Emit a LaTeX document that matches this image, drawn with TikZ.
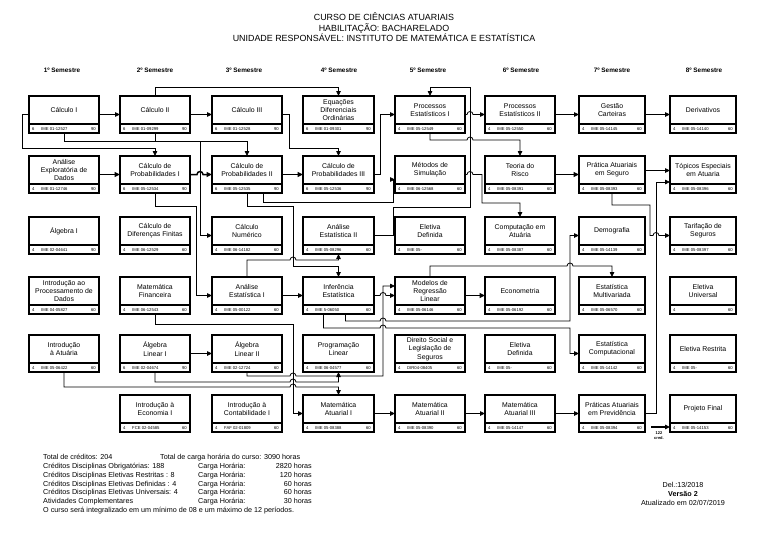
\documentclass[tikz,border=0pt]{standalone}
\usepackage{fontspec}
\setmainfont{Liberation Sans}
\usetikzlibrary{arrows.meta,calc}
\tikzset{
  cbox/.style={draw, line width=1.8pt, rectangle, minimum height=37pt, inner sep=0pt, outer sep=0pt},
  ctext/.style={font=\fontsize{6.9}{8.3}\selectfont, align=center, inner sep=0pt},
  stext/.style={font=\fontsize{4.2}{4.6}\selectfont, inner sep=0pt},
  conn/.style={line width=0.8pt, -{Triangle[length=5pt,width=4.5pt]}},
  bold conn/.style={line width=1.5pt, -{Triangle[length=5.5pt,width=5pt]}},
  semh/.style={font=\bfseries\fontsize{6.4}{7}\selectfont, inner sep=0pt},
  foot/.style={font=\fontsize{7.2}{8}\selectfont, inner sep=0pt}
}
\newcommand{\course}[8]{%
  \node[cbox, minimum width=#4pt] (#1) at ({#2+#4/2},{#3+18.5}) {};
  \draw[line width=1.4pt] (#2,#3+28) -- ({#2+#4},#3+28);
  \node[ctext] (#1t) at ({#2+#4/2},{#3+14}) {#5};
  \node[stext, anchor=west] (#1a) at ({#2+3},{#3+32.6}) {#6};
  \node[stext, anchor=west] (#1b) at ({#2+12},{#3+32.6}) {#7};
  \node[stext, anchor=east] (#1c) at ({#2+#4-3},{#3+32.6}) {#8};
}
\begin{document}
\begin{tikzpicture}[x=1pt,y=-1pt]
\fill[white] (0,0) rectangle (768,543);
\useasboundingbox (0,0) rectangle (768,543);

\node[font=\fontsize{8.9}{10.6}\selectfont, align=center, inner sep=0pt] (title) at (384,27.5)
  {CURSO DE CIÊNCIAS ATUARIAIS\\HABILITAÇÃO: BACHARELADO\\UNIDADE RESPONSÁVEL: INSTITUTO DE MATEMÁTICA E ESTATÍSTICA};

\node[semh] (s1) at (62,70) {1º Semestre};
\node[semh] (s2) at (155,70) {2º Semestre};
\node[semh] (s3) at (244,70) {3º Semestre};
\node[semh] (s4) at (339,70) {4º Semestre};
\node[semh] (s5) at (428,70) {5º Semestre};
\node[semh] (s6) at (521,70) {6º Semestre};
\node[semh] (s7) at (612,70) {7º Semestre};
\node[semh] (s8) at (704,70) {8º Semestre};

% row 1
\course{calcI}{29}{96}{70}{Cálculo I}{6}{IME 01-12527}{90}
\course{calcII}{120}{96}{70}{Cálculo II}{6}{IME 01-09299}{90}
\course{calcIII}{212}{96}{70}{Cálculo III}{6}{IME 01-12528}{90}
\course{edo}{303}{96}{71}{Equações\\Diferenciais\\Ordinárias}{6}{IME 01-09301}{90}
\course{procI}{395}{96}{70}{Processos\\Estatísticos I}{4}{IME 05-12549}{60}
\course{procII}{485}{96}{70}{Processos\\Estatísticos II}{4}{IME 05-12550}{60}
\course{gestao}{579}{96}{66}{Gestão\\Carteiras}{4}{IME 05-14145}{60}
\course{deriv}{670}{96}{66}{Derivativos}{4}{IME 05-14140}{60}
% row 2
\course{aed}{29}{156}{70}{Análise\\Exploratória de\\Dados}{4}{IME 01-12746}{90}
\course{cp1}{120}{156}{70}{Cálculo de\\Probabilidades I}{6}{IME 05-12534}{90}
\course{cp2}{212}{156}{70}{Cálculo de\\Probabilidades II}{6}{IME 05-12535}{90}
\course{cp3}{303}{156}{71}{Cálculo de\\Probabilidades III}{6}{IME 05-12536}{90}
\course{metsim}{395}{156}{70}{Métodos de\\Simulação}{4}{IME 06-12568}{60}
\course{teoria}{485}{156}{70}{Teoria do\\Risco}{4}{IME 05-08391}{60}
\course{pratseg}{579}{156}{66}{Prática Atuariais\\em Seguro}{4}{IME 05-08393}{60}
\course{topicos}{670}{156}{66}{Tópicos Especiais\\em Atuaria}{4}{IME 05-08396}{60}
% row 3
\course{algI}{29}{217}{70}{Álgebra I}{4}{IME 02-04641}{90}
\course{cdf}{120}{217}{70}{Cálculo de\\Diferenças Finitas}{4}{IME 06-12529}{60}
\course{cnum}{212}{217}{70}{Cálculo\\Numérico}{4}{IME 06-14182}{60}
\course{ae2}{303}{217}{71}{Análise\\Estatística II}{4}{IME 05-08296}{60}
\course{eletdefA}{395}{217}{70}{Eletiva\\Definida}{4}{IME 05-}{60}
\course{compat}{485}{217}{70}{Computação em\\Atuária}{4}{IME 05-08387}{60}
\course{demog}{579}{217}{66}{Demografia}{4}{IME 05-14139}{60}
\course{tarif}{670}{217}{66}{Tarifação de\\Seguros}{4}{IME 05-08397}{60}
% row 4
\course{ipd}{29}{277}{70}{Introdução ao\\Processamento de\\Dados}{4}{IME 04-05827}{60}
\course{matfin}{120}{277}{70}{Matemática\\Financeira}{4}{IME 06-12543}{60}
\course{ae1}{212}{277}{70}{Análise\\Estatística I}{4}{IME 05-00122}{60}
\course{infer}{303}{277}{71}{Inferência\\Estatística}{4}{IME 5-06050}{60}
\course{modreg}{395}{277}{70}{Modelos de\\Regressão\\Linear}{4}{IME 05-06146}{60}
\course{econ}{485}{277}{70}{Econometria}{4}{IME 05-06192}{60}
\course{multiv}{579}{277}{66}{Estatística\\Multivariada}{4}{IME 05-06570}{60}
\course{eletuniv}{670}{277}{66}{Eletiva\\Universal}{4}{}{60}
% row 5
\course{intatu}{29}{335}{70}{Introdução\\à Atuária}{4}{IME 05-06422}{60}
\course{alI}{120}{335}{70}{Álgebra\\Linear I}{6}{IME 02-04674}{90}
\course{alII}{212}{335}{70}{Álgebra\\Linear II}{4}{IME 02-12724}{60}
\course{proglin}{303}{335}{71}{Programação\\Linear}{4}{IME 06-04577}{60}
\course{direito}{395}{335}{70}{Direito Social e\\Legislação de\\Seguros}{4}{DIR04-08405}{60}
\course{eletdefB}{485}{335}{70}{Eletiva\\Definida}{4}{IME 05-}{60}
\course{estcomp}{579}{335}{66}{Estatística\\Computacional}{4}{IME 05-14142}{60}
\course{eletrest}{670}{335}{66}{Eletiva Restrita}{4}{IME 05-}{60}
% row 6
\course{introecon}{120}{395}{70}{Introdução à\\Economia I}{4}{FCE 02-04585}{60}
\course{introcont}{212}{395}{70}{Introdução à\\Contabilidade I}{4}{FAF 02-01809}{60}
\course{maI}{303}{395}{71}{Matemática\\Atuarial I}{4}{IME 05-08388}{60}
\course{maII}{395}{395}{70}{Matemática\\Atuarial II}{4}{IME 05-08390}{60}
\course{maIII}{485}{395}{70}{Matemática\\Atuarial III}{4}{IME 05-14147}{60}
\course{pratprev}{579}{395}{66}{Práticas Atuariais\\em Previdência}{4}{IME 05-08394}{60}
\course{projfin}{670}{395}{66}{Projeto Final}{4}{IME 05-14153}{60}

% straight arrows
\draw[conn] (calcI.east) -- (calcII.west);
\draw[conn] (calcII.east) -- (calcIII.west);
\draw[conn] (procII.east) -- (gestao.west);
\draw[conn] (gestao.east) -- (deriv.west);
\draw[conn] (procI.east) -- (467,114.5) arc[start angle=180,end angle=360,radius=3] -- (procII.west);
\draw[bold conn] (aed.east) -- (cp1.west);
\draw[bold conn] (cp1.east) -- (197,174.5) arc[start angle=180,end angle=360,radius=3] -- (cp2.west);
\draw[bold conn] (cp2.east) -- (cp3.west);
\draw[bold conn] (teoria.east) -- (pratseg.west);
\draw[conn] ([yshift=4pt]pratseg.east) -- ([yshift=4pt]topicos.west);
\draw[conn] (alI.east) -- (alII.west);
\draw[conn] (ae1.east) -- (infer.west);
\draw[bold conn] (modreg.east) -- (econ.west);
\draw[conn] (maI.east) -- (maII.west);
\draw[conn] (maII.east) -- (maIII.west);
\draw[conn] (maIII.east) -- (pratprev.west);
\draw[conn] (infer.east) -- (380,295.5) arc[start angle=180,end angle=360,radius=3] -- (modreg.west);

% routed connectors
\draw[conn] (calcI.west) -- (22,114.5) |- (155,148) -- (cp1.north);
\draw[conn] (calcI.south) |- (200,141) |- (cnum.west);
\draw[conn] (calcII.south) |- (247,141) -- (cp2.north);
\draw[conn] (calcII.north) -- (155,87) -| (edo.north);
\draw[conn] (calcIII.east) -- ++(7,0) |- (338.5,148) -- (cp3.north);
\draw[conn] (cp3.east) -- ++(6,0) |- (procI.west);
\draw[conn] (ae2.east) -| (393,207) -- (470,207) -- (470,87) -| (procI.north);
\draw[conn] ([xshift=16pt]cp2.south) |- (393,202) |- ([yshift=-5pt]metsim.west);
\draw[conn] (cp1.south) |- (196,206) |- (ae1.west);
\draw[conn] (cp2.south) |- (293,206) -- (293,266) -| (infer.north);
\draw[conn] (ae1.north) |- (290,260) arc[start angle=180,end angle=360,radius=3] -- (338.5,260) -- (ae2.south);
\draw[conn] (procI.south) |- (467,140) arc[start angle=180,end angle=360,radius=3] -- (520,140) -- (teoria.north);
\draw[conn] (metsim.east) -- (467,174.5) arc[start angle=180,end angle=360,radius=3] -- (482,174.5) |- (520,203) -- (compat.north);
\draw[conn] (pratseg.south) |- (650,205) -- (650,235.5) -- (653,235.5) arc[start angle=180,end angle=360,radius=3] -- (tarif.west);
\draw[conn] (pratprev.east) -| (656,182) -- ([yshift=-7.5pt]topicos.west);
\draw[conn] (modreg.north) |- (567,266) arc[start angle=180,end angle=360,radius=3] -- (612,266) -- (multiv.north);
\draw[conn] ([xshift=7pt]infer.south) |- (380,321) arc[start angle=180,end angle=360,radius=3] -- (570,321) |- (demog.west);
\draw[conn] ([xshift=-15pt]infer.south) |- (380,328) arc[start angle=180,end angle=360,radius=3] -- (570,328) |- (estcomp.west);
\draw[conn] (matfin.south) |- (293,324) |- (maI.west);
\draw[conn] (alII.south) |- (290,376) arc[start angle=180,end angle=360,radius=3] -- (383,376) |- ([yshift=9.5pt]modreg.west);
\draw[conn] (alI.south) |- (290,382) arc[start angle=180,end angle=360,radius=3] -- (338.5,382) -- (proglin.south);
\draw[conn] (intatu.south) |- (290,387) arc[start angle=180,end angle=360,radius=3] -- (338.5,387) -- (maI.north);

% 122 cred.
\coordinate (credstart) at (651,427);
\draw[conn, line width=1.2pt] (credstart) -- (credstart -| projfin.west);
\node[font=\bfseries\fontsize{4}{4.6}\selectfont, align=center, inner sep=0pt] (credtxt) at (659,435.5) {122\\cred.};

% footer
\node[foot, anchor=base west] (f1) at (43,459) {Total de créditos: 204};
\node[foot, anchor=base west] (f2) at (43,468) {Créditos Disciplinas Obrigatórias: 188};
\node[foot, anchor=base west] (f3) at (43,477) {Créditos Disciplinas Eletivas Restritas : 8};
\node[foot, anchor=base west] (f4) at (43,486) {Créditos Disciplinas Eletivas Definidas : 4};
\node[foot, anchor=base west] (f5) at (43,494.5) {Créditos Disciplinas Eletivas Universais: 4};
\node[foot, anchor=base west] (f6) at (43,503) {Atividades Complementares};
\node[foot, anchor=base west] (f7) at (43,512) {O curso será integralizado em um mínimo de 08 e um máximo de 12 períodos.};
\node[foot, anchor=base west] (g1) at (160,459) {Total de carga horária do curso: 3090 horas};
\node[foot, anchor=base west] (g2) at (198,468) {Carga Horária:};
\node[foot, anchor=base west] (g3) at (198,477) {Carga Horária:};
\node[foot, anchor=base west] (g4) at (198,486) {Carga Horária:};
\node[foot, anchor=base west] (g5) at (198,494.5) {Carga Horária:};
\node[foot, anchor=base west] (g6) at (198,503) {Carga Horária:};
\node[foot, anchor=base east] (h2) at (312,468) {2820 horas};
\node[foot, anchor=base east] (h3) at (312,477) {120 horas};
\node[foot, anchor=base east] (h4) at (312,486) {60 horas};
\node[foot, anchor=base east] (h5) at (312,494.5) {60 horas};
\node[foot, anchor=base east] (h6) at (312,503) {30 horas};
\node[foot, anchor=base] (d1) at (683,487) {Del.:13/2018};
\node[foot, font=\bfseries\fontsize{7.2}{8}\selectfont, anchor=base] (d2) at (683,496) {Versão 2};
\node[foot, anchor=base] (d3) at (683,505) {Atualizado em 02/07/2019};
\end{tikzpicture}
\end{document}
